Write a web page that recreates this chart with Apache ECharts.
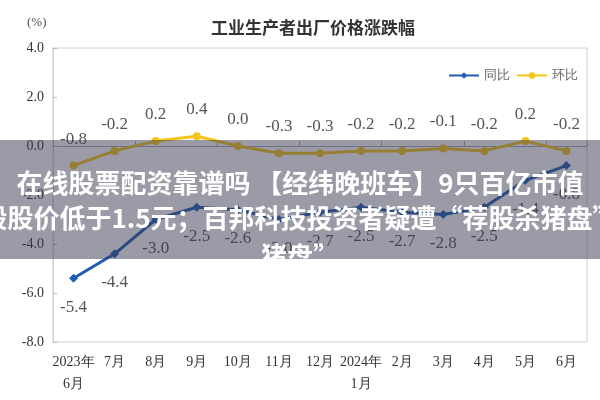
<!DOCTYPE html>
<html>
<head>
<meta charset="utf-8">
<script src="https://cdn.jsdelivr.net/npm/echarts@6/dist/echarts.min.js"></script>
<style>html,body{margin:0;padding:0;background:#fff;}#c{width:600px;height:400px;}</style>
</head>
<body>
<div id="c"></div>
<script>
var categories = ['2023年\n6月','7月','8月','9月','10月','11月','12月','2024年\n1月','2月','3月','4月','5月','6月'];
var yoy = [-5.4,-4.4,-3.0,-2.5,-2.6,-3.0,-2.7,-2.5,-2.7,-2.8,-2.5,-1.4,-0.8];
var mom = [-0.8,-0.2,0.2,0.4,0.0,-0.3,-0.3,-0.2,-0.2,-0.1,-0.2,0.2,-0.2];
var seriesNames = ['同比','环比'];
var titleText = '工业生产者出厂价格涨跌幅';
var unitText = '(%)';
var overlayLines = ['在线股票配资靠谱吗 【经纬晚班车】9只百亿市值','股股价低于1.5元；百邦科技投资者疑遭“荐股杀猪盘”','猪盘”'];

var serif = '"Liberation Serif","DejaVu Serif",serif';
var cjk = '"Noto Sans CJK SC","Noto Sans",sans-serif';
var blue = '#1f5fb0', yellow = '#f5c518';

var chart = echarts.init(document.getElementById('c'));
chart.setOption({
  animation: false,
  backgroundColor: '#fff',
  title: {text: titleText, left: 206, top: 14,
    textStyle: {fontFamily: cjk, fontSize: 17, fontWeight: 'bold', color: '#333'}},
  legend: {left: 443, top: 64, itemWidth: 30, itemHeight: 8, itemGap: 6,
    textStyle: {fontFamily: serif, fontSize: 13, color: '#666'},
    data: seriesNames},
  grid: {left: 53, right: 13, top: 48, bottom: 58, show: true, borderColor: '#d0d0d0', borderWidth: 1},
  xAxis: [{
    type: 'category', data: categories, position: 'bottom',
    axisLine: {show: false, onZero: false}, axisTick: {show: false},
    axisLabel: {fontFamily: serif, fontSize: 14, color: '#333', margin: 9, lineHeight: 22, interval: 0}
  },{
    type: 'category', data: categories, position: 'bottom',
    axisLine: {show: true, onZero: true, lineStyle: {color: '#aaa'}},
    axisTick: {show: true, inside: true, length: 5, lineStyle: {color: '#aaa'}},
    axisLabel: {show: false}
  }],
  yAxis: {
    type: 'value', min: -8, max: 4, interval: 2,
    axisLine: {show: true, lineStyle: {color: '#d0d0d0'}},
    axisTick: {show: true, inside: true, length: 4, lineStyle: {color: '#bbb'}},
    splitLine: {show: false},
    axisLabel: {fontFamily: serif, fontSize: 14, color: '#333', margin: 9,
      formatter: function(v){return v.toFixed(1);}}
  },
  series: [{
    name: seriesNames[0], type: 'line', data: yoy, xAxisIndex: 0,
    symbol: 'diamond', symbolSize: 9,
    lineStyle: {color: blue, width: 3}, itemStyle: {color: blue},
    label: {show: true, position: 'bottom', distance: 16,
      fontFamily: serif, fontSize: 17, color: '#555',
      formatter: function(p){return p.value.toFixed(1);}}
  },{
    name: seriesNames[1], type: 'line', data: mom, xAxisIndex: 0,
    symbol: 'circle', symbolSize: 8,
    lineStyle: {color: yellow, width: 3}, itemStyle: {color: yellow},
    label: {show: true, position: 'top', distance: 14,
      fontFamily: serif, fontSize: 17, color: '#555',
      formatter: function(p){return p.value.toFixed(1);}}
  }],
  graphic: [
    {type: 'text', left: 27, top: 16, style: {text: unitText, font: '13px ' + serif, fill: '#555'}},
    {type: 'rect', z: 100, shape: {x: 0, y: 140, width: 600, height: 119}, style: {fill: 'rgba(55,55,80,0.5)'}},
    {type: 'text', z: 101, x: 300, y: 183, style: {text: overlayLines[0], align: 'center', verticalAlign: 'middle',
      font: 'bold 26px ' + cjk, fill: '#fff'}},
    {type: 'text', z: 101, x: 300, y: 218, style: {text: overlayLines[1], align: 'center', verticalAlign: 'middle',
      font: 'bold 26px ' + cjk, fill: '#fff'}},
    {type: 'text', z: 101, x: 300, y: 256, style: {text: overlayLines[2], align: 'center', verticalAlign: 'middle',
      font: 'bold 26px ' + cjk, fill: '#fff'}},
    {type: 'rect', z: 102, shape: {x: 255, y: 259, width: 95, height: 18}, style: {fill: '#fff'}}
  ]
});
</script>
</body>
</html>
